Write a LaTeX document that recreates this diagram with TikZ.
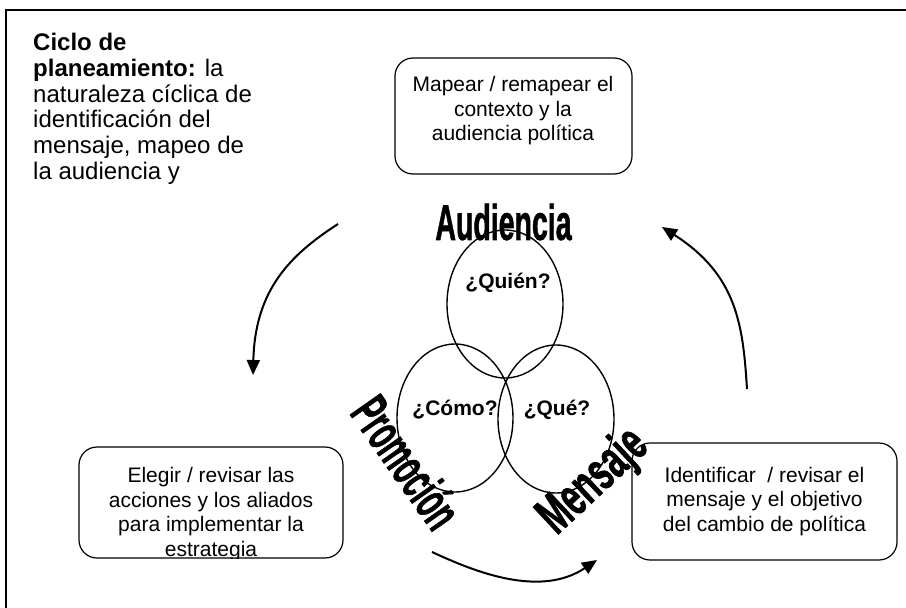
\documentclass[tikz,border=0pt]{standalone}
\usepackage{fontspec}
\setmainfont{Liberation Sans}
\newfontfamily\heavyfont[UprightFeatures={FakeBold=1.5},BoldFeatures={FakeBold=1.5}]{Liberation Sans}
\usetikzlibrary{arrows.meta,shapes.geometric}
\begin{document}
\begin{tikzpicture}[x=1pt,y=-1pt,
  box/.style={draw, line width=1.2pt, rounded corners=18pt, inner sep=0pt},
  txt/.style={font=\fontsize{21}{24.5}\selectfont, align=center, inner sep=0pt},
  qtxt/.style={font=\fontsize{21}{24}\selectfont\bfseries, inner sep=0pt},
  venn/.style={draw, ellipse, line width=1.4pt, minimum width=116pt, minimum height=148pt, inner sep=0pt},
  bigword/.style={inner sep=0pt},
  flow/.style={line width=2pt, -{Triangle[length=15pt,width=13pt]}}
]
\useasboundingbox (0,0) rectangle (906,608);
% outer frame
\draw[line width=1.2pt] (6,608) -- (6,10) -- (906,10);

% heading
\node[anchor=north west, align=left, inner sep=0pt, font=\fontsize{24}{25.8}\selectfont] (title) at (33,33)
  {\textbf{Ciclo de}\\\textbf{planeamiento:} la\\naturaleza cíclica de\\identificación del\\mensaje, mapeo de\\la audiencia y};

% top box
\node[box, minimum width=237pt, minimum height=116pt] (mapbox) at (513.5,116) {};
\node[txt] (map) at (513,111) {Mapear / remapear el\\contexto y la\\audiencia política};

% left box (text clipped)
\begin{scope}
\clip[rounded corners=18pt] (79,447) rectangle (343,558);
\node[txt, anchor=north] (act) at (211,467.5) {Elegir / revisar las\\acciones y los aliados\\para implementar la\\estrategia};
\end{scope}
\node[box, minimum width=264pt, minimum height=111pt] (actbox) at (211,502.5) {};

% right box
\node[box, txt, minimum width=265pt, minimum height=117pt] (msg) at (764.5,501.5)
  {Identificar\ \ / revisar el\\mensaje y el objetivo\\del cambio de política};

% venn
\node[venn] (vaud) at (505,304) {};
\node[venn] (vpro) at (455,418) {};
\node[venn] (vmen) at (556,419) {};
\node[qtxt] (quien) at (508,283) {¿Quién?};
\node[qtxt] (como) at (455,410) {¿Cómo?};
\node[qtxt] (que) at (557,410) {¿Qué?};

% big words
\node[bigword] (waud) at (503.5,222) {\scalebox{0.57}[1]{\fontsize{50}{50}\selectfont\heavyfont\bfseries Audiencia}};
\node[bigword, rotate=-55] (wpro) at (407,462) {\scalebox{0.52}[1]{\fontsize{54}{54}\selectfont\heavyfont\bfseries Promoción}};
\node[bigword, rotate=43] (wmen) at (594,482) {\scalebox{0.6}[1]{\fontsize{54}{54}\selectfont\heavyfont\bfseries Mensaje}};

% arrows
\coordinate (a1s) at (338,224);
\coordinate (a1e) at (253,375);
\coordinate (a2s) at (747,389);
\coordinate (a2e) at (662,227);
\coordinate (a3s) at (432,552);
\coordinate (a3e) at (597,560);
\draw[flow] (a1s) .. controls (290,255) and (255,290) .. (a1e);
\draw[flow] (a2s) .. controls (743,325) and (737,275) .. (a2e);
\draw[flow] (a3s) .. controls (475,572) and (540,598) .. (a3e);
\end{tikzpicture}
\end{document}
